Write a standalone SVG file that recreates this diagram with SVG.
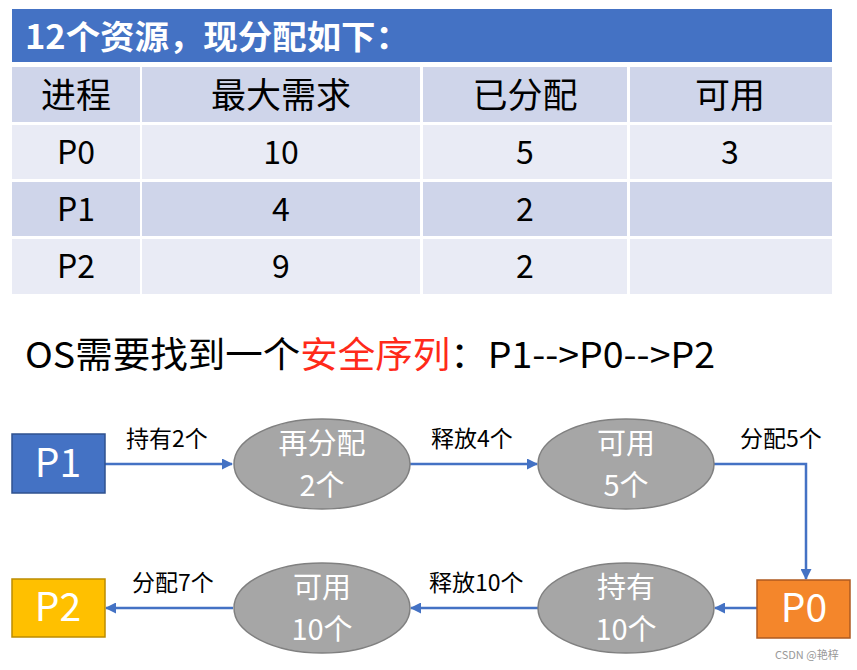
<svg xmlns="http://www.w3.org/2000/svg" width="857" height="670" viewBox="0 0 857 670">
<defs>
<marker id="ah" markerWidth="11" markerHeight="11" refX="10" refY="5.5" orient="auto" markerUnits="userSpaceOnUse">
<path d="M0,0 L11,5.5 L0,11 z" fill="#4472c4"/>
</marker>
<style>
text{font-family:"Noto Sans CJK SC","Microsoft YaHei",sans-serif}
.hd{fill:#cfd5ea}
.lt{fill:#e9ebf5}
.th{font-size:35px;fill:#000;text-anchor:middle}
.td{font-size:32px;fill:#000;text-anchor:middle}
.ell{fill:#a6a6a6;stroke:#808080;stroke-width:1.5}
.et{font-size:29px;fill:#fff;text-anchor:middle}
.bt{font-size:39px;fill:#fff;text-anchor:middle}
.lb{font-size:23px;fill:#000}
.cn{fill:none;stroke:#4472c4;stroke-width:2.5;marker-end:url(#ah)}
</style>
</defs>
<rect width="857" height="670" fill="#fff"/>
<g id="table">
<rect x="12" y="9" width="820" height="53" fill="#4472c4"/>
<text x="25" y="49" font-size="33" font-weight="bold" fill="#fff" textLength="385" lengthAdjust="spacingAndGlyphs">12个资源，现分配如下：</text>
<rect class="hd" x="12" y="67" width="128" height="55"/>
<rect class="hd" x="142" y="67" width="278" height="55"/>
<rect class="hd" x="423" y="67" width="204" height="55"/>
<rect class="hd" x="630" y="67" width="202" height="55"/>
<rect class="lt" x="12" y="125" width="128" height="54"/>
<rect class="lt" x="142" y="125" width="278" height="54"/>
<rect class="lt" x="423" y="125" width="204" height="54"/>
<rect class="lt" x="630" y="125" width="202" height="54"/>
<rect class="hd" x="12" y="182" width="128" height="54"/>
<rect class="hd" x="142" y="182" width="278" height="54"/>
<rect class="hd" x="423" y="182" width="204" height="54"/>
<rect class="hd" x="630" y="182" width="202" height="54"/>
<rect class="lt" x="12" y="239" width="128" height="55"/>
<rect class="lt" x="142" y="239" width="278" height="55"/>
<rect class="lt" x="423" y="239" width="204" height="55"/>
<rect class="lt" x="630" y="239" width="202" height="55"/>
<text class="th" x="76" y="108">进程</text>
<text class="th" x="281" y="108">最大需求</text>
<text class="th" x="525" y="108">已分配</text>
<text class="th" x="730" y="108">可用</text>
<text class="td" x="76" y="164">P0</text>
<text class="td" x="281" y="164">10</text>
<text class="td" x="525" y="164">5</text>
<text class="td" x="730" y="164">3</text>
<text class="td" x="76" y="221">P1</text>
<text class="td" x="281" y="221">4</text>
<text class="td" x="525" y="221">2</text>
<text class="td" x="76" y="278">P2</text>
<text class="td" x="281" y="278">9</text>
<text class="td" x="525" y="278">2</text>
</g>
<text x="25" y="368" font-size="36" fill="#000" textLength="690" lengthAdjust="spacingAndGlyphs">OS需要找到一个<tspan fill="#ff2a1a">安全序列</tspan>：P1--&gt;P0--&gt;P2</text>
<g id="connectors">
<line class="cn" x1="105" y1="464" x2="232" y2="464"/>
<line class="cn" x1="410" y1="464" x2="537" y2="464"/>
<polyline class="cn" points="714,464 806,464 806,579"/>
<line class="cn" x1="757" y1="608" x2="715" y2="608"/>
<line class="cn" x1="538" y1="608" x2="411" y2="608"/>
<line class="cn" x1="233" y1="608" x2="106" y2="608"/>
<text class="lb" x="126" y="447">持有2个</text>
<text class="lb" x="431" y="447">释放4个</text>
<text class="lb" x="740" y="447">分配5个</text>
<text class="lb" x="429" y="591">释放10个</text>
<text class="lb" x="132" y="591">分配7个</text>
</g>
<g id="P1"><rect x="12" y="434" width="93" height="59" fill="#4472c4" stroke="#2f528f" stroke-width="1.5"/><text class="bt" x="58" y="477">P1</text></g>
<g id="n1"><ellipse class="ell" cx="322" cy="464" rx="88" ry="45"/><text class="et" x="322" y="454">再分配</text><text class="et" x="322" y="496">2个</text></g>
<g id="n2"><ellipse class="ell" cx="626" cy="464" rx="88" ry="45"/><text class="et" x="626" y="454">可用</text><text class="et" x="626" y="496">5个</text></g>
<g id="P0"><rect x="757" y="580" width="93" height="58" fill="#f4862b" stroke="#ae5a21" stroke-width="1.5"/><text class="bt" x="804" y="622">P0</text></g>
<g id="n3"><ellipse class="ell" cx="626" cy="608" rx="88" ry="45"/><text class="et" x="626" y="598">持有</text><text class="et" x="626" y="640">10个</text></g>
<g id="n4"><ellipse class="ell" cx="322" cy="608" rx="88" ry="45"/><text class="et" x="322" y="598">可用</text><text class="et" x="322" y="640">10个</text></g>
<g id="P2"><rect x="12" y="579" width="93" height="58" fill="#ffc000" stroke="#bc8c00" stroke-width="1.5"/><text class="bt" x="58" y="621">P2</text></g>
<text x="775" y="659" font-size="11" fill="#999">CSDN @艳梓</text>
</svg>
